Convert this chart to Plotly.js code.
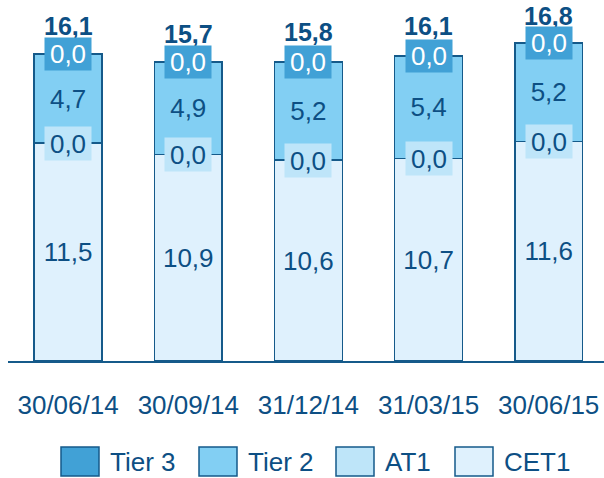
<!DOCTYPE html>
<html><head><meta charset="utf-8">
<script src="https://cdn.plot.ly/plotly-3.0.1.min.js"></script>
<style>html,body{margin:0;padding:0;background:#fff}</style>
</head><body><div id="chart" style="width:604px;height:478px"></div>
<script>
const categories = ["30/06/14", "30/09/14", "31/12/14", "31/03/15", "30/06/15"];
const cet1  = [11.5, 10.9, 10.6, 10.7, 11.6];
const at1   = [0.0, 0.0, 0.0, 0.0, 0.0];
const tier2 = [4.7, 4.9, 5.2, 5.4, 5.2];
const tier3 = [0.0, 0.0, 0.0, 0.0, 0.0];
const totals = [16.1, 15.7, 15.8, 16.1, 16.8];
const seriesNames = ["CET1", "AT1", "Tier 2", "Tier 3"];
const seriesColors = ["#dff1fd", "#bee5f9", "#82cff3", "#41a1d6"];
const legendOrder = ["Tier 3", "Tier 2", "AT1", "CET1"];

const DARK = "#0d4f84";
const FONT = "Liberation Sans, Arial, sans-serif";
const FS = 26;
const fmt = v => v.toFixed(1).replace(".", ",");

const L = 8, W = 596, B = 361, H = 361;
const YMAX = 19.06;
const pxPerUnit = H / YMAX;

const seriesData = [cet1, at1, tier2, tier3];
const traces = seriesData.map((vals, i) => ({
  type: "bar",
  name: seriesNames[i],
  x: categories,
  y: vals,
  marker: {color: seriesColors[i], line: {color: "#155a8a", width: 1.5}},
  text: (i === 0 || i === 2) ? vals.map(fmt) : undefined,
  textposition: (i === 0 || i === 2) ? "inside" : "none",
  insidetextanchor: "middle",
  textfont: {family: FONT, size: FS, color: DARK},
  constraintext: "none",
  hoverinfo: "none",
  showlegend: false
}));

const annotations = [];
categories.forEach((c, k) => {
  const room = (YMAX - totals[k]) * pxPerUnit;
  const shift = Math.min(30, room - 16);
  annotations.push({x: c, y: totals[k], xref: "x", yref: "y", text: "<b>" + fmt(totals[k]) + "</b>",
    showarrow: false, yshift: shift, font: {family: FONT, size: 25, color: DARK}});
  const top = cet1[k] + at1[k] + tier2[k] + tier3[k];
  annotations.push({x: c, y: top, xref: "x", yref: "y", text: fmt(tier3[k]), showarrow: false,
    bgcolor: seriesColors[3], width: 44, height: 30, font: {family: FONT, size: FS, color: "#ffffff"}});
  annotations.push({x: c, y: cet1[k] + at1[k] / 2, xref: "x", yref: "y", text: fmt(at1[k]), showarrow: false,
    bgcolor: seriesColors[1], width: 44, height: 31, font: {family: FONT, size: FS, color: DARK}});
});

const px2x = q => (q - L) / W;
const px2y = p => (B - p) / H;
const legendX = [61, 199, 336, 455];
const shapes = [];
legendOrder.forEach((nm, j) => {
  const idx = seriesNames.indexOf(nm);
  shapes.push({type: "rect", xref: "paper", yref: "paper",
    x0: px2x(legendX[j]), x1: px2x(legendX[j] + 38), y0: px2y(476), y1: px2y(447),
    fillcolor: seriesColors[idx], line: {color: "#155a8a", width: 1.5}});
  annotations.push({xref: "paper", yref: "paper", x: px2x(legendX[j] + 47), y: px2y(462),
    xanchor: "left", yanchor: "middle", text: nm, showarrow: false,
    font: {family: FONT, size: FS, color: DARK}});
});

const layout = {
  width: 604, height: 478,
  margin: {l: L, r: 0, t: 0, b: 478 - B},
  paper_bgcolor: "#ffffff", plot_bgcolor: "#ffffff",
  barmode: "stack", bargap: 0.435,
  showlegend: false,
  xaxis: {type: "category", range: [-0.5, 4.46], showline: true, linecolor: "#155a8a", linewidth: 2,
    ticks: "", showgrid: false, zeroline: false, ticklabelstandoff: 20,
    tickfont: {family: FONT, size: FS, color: DARK}},
  yaxis: {range: [0, YMAX], visible: false, showgrid: false, zeroline: false},
  annotations: annotations,
  shapes: shapes,
  font: {family: FONT}
};

Plotly.newPlot("chart", traces, layout, {displayModeBar: false, staticPlot: true});
</script></body></html>
